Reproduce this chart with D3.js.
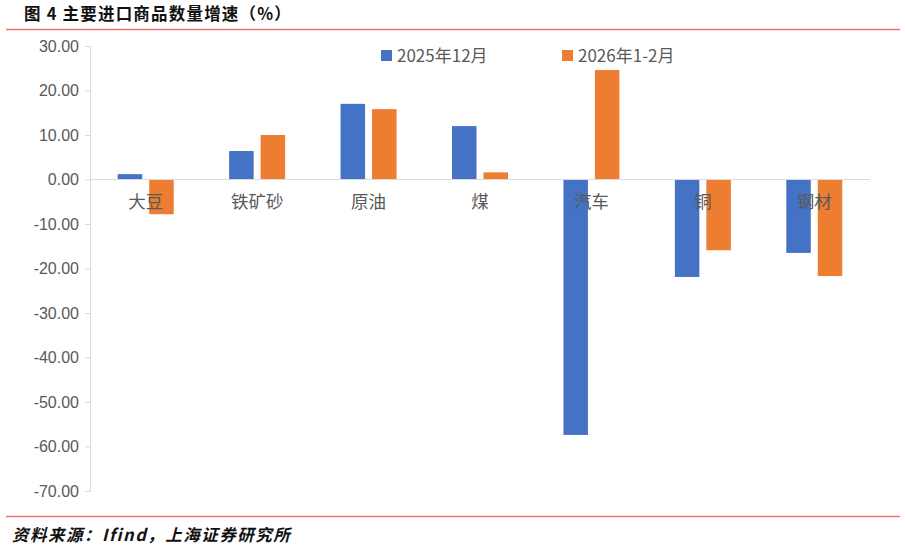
<!DOCTYPE html>
<html>
<head>
<meta charset="utf-8">
<style>
  body { margin: 0; background: #fff; }
  text { font-family: "Noto Sans CJK SC", "Liberation Sans", sans-serif; }
</style>
</head>
<body>
<script src="https://cdn.jsdelivr.net/npm/d3@7"></script>
<script>
var categories = ["大豆", "铁矿砂", "原油", "煤", "汽车", "铜", "钢材"];
var seriesNames = ["2025年12月", "2026年1-2月"];
var dec2025 = [1.2, 6.4, 17.0, 12.0, -57.4, -21.9, -16.5];
var janFeb2026 = [-7.8, 10.0, 15.8, 1.6, 24.6, -15.9, -21.7];
var yTicks = [30, 20, 10, 0, -10, -20, -30, -40, -50, -60, -70];
var colors = ["#4472c4", "#ed7d31"];

var W = 905, H = 549;
var svg = d3.select("body").append("svg")
    .attr("width", W)
    .attr("height", H);

// title + red rules
svg.append("text")
    .attr("x", 24).attr("y", 20)
    .style("font-weight", "bold")
    .style("font-size", "16.5px")
    .style("letter-spacing", "1.2px")
    .style("fill", "#111")
    .text("图 4 主要进口商品数量增速（%）");
svg.append("line").attr("x1", 6).attr("x2", 900).attr("y1", 29.5).attr("y2", 29.5)
    .style("stroke", "#f07070").style("stroke-width", 1.5);
svg.append("line").attr("x1", 6).attr("x2", 900).attr("y1", 516.5).attr("y2", 516.5)
    .style("stroke", "#f07070").style("stroke-width", 1.5);
svg.append("text")
    .attr("x", 12).attr("y", 541)
    .style("font-weight", "bold")
    .style("font-style", "italic")
    .style("font-size", "16.5px")
    .style("letter-spacing", "1.5px")
    .style("fill", "#111")
    .text("资料来源：Ifind，上海证券研究所");

var x = d3.scaleBand().domain(categories).range([90, 870]);
var y = d3.scaleLinear().domain([-70, 30]).range([491, 46]);

// y axis, hyphen minus like the original
var fmt = function(d) { return d3.format(".2f")(d).replace("−", "-"); };
var yAxis = svg.append("g")
    .attr("transform", "translate(90,0)")
    .call(d3.axisLeft(y).tickValues(yTicks).tickSize(5).tickPadding(6)
        .tickFormat(fmt));
yAxis.select(".domain").style("stroke", "#d9d9d9");
yAxis.selectAll(".tick line").style("stroke", "#d9d9d9");
yAxis.selectAll(".tick text")
    .style("font-family", "'Liberation Sans', Arial, sans-serif")
    .style("font-size", "16px")
    .style("fill", "#595959");

// bars
var rows = categories.map(function(c, i) { return {cat: c, vals: [dec2025[i], janFeb2026[i]]}; });
var bw = 24.5, gap = 3.5;
rows.forEach(function(r) {
    var cx = x(r.cat) + x.bandwidth() / 2;
    r.vals.forEach(function(v, k) {
        svg.append("rect")
            .attr("x", k === 0 ? cx - gap - bw : cx + gap)
            .attr("y", y(Math.max(0, v)))
            .attr("width", bw)
            .attr("height", Math.abs(y(v) - y(0)))
            .style("fill", colors[k]);
    });
});

// zero line
svg.append("line")
    .attr("x1", 90).attr("x2", 870)
    .attr("y1", y(0)).attr("y2", y(0))
    .style("stroke", "#d9d9d9").style("stroke-width", 1.2);

// category labels
svg.selectAll(".cat").data(categories).enter().append("text")
    .attr("x", function(d) { return x(d) + x.bandwidth() / 2; })
    .attr("y", 208)
    .attr("text-anchor", "middle")
    .style("font-size", "17.5px")
    .style("fill", "#595959")
    .text(function(d) { return d; });

// legend
var lx = [381, 562];
seriesNames.forEach(function(n, k) {
    svg.append("rect").attr("x", lx[k]).attr("y", 50).attr("width", 11).attr("height", 11)
        .style("fill", colors[k]);
    svg.append("text").attr("x", lx[k] + 16).attr("y", 62)
        .style("font-size", "17px")
        .style("fill", "#595959")
        .text(n);
});
</script>
</body>
</html>
